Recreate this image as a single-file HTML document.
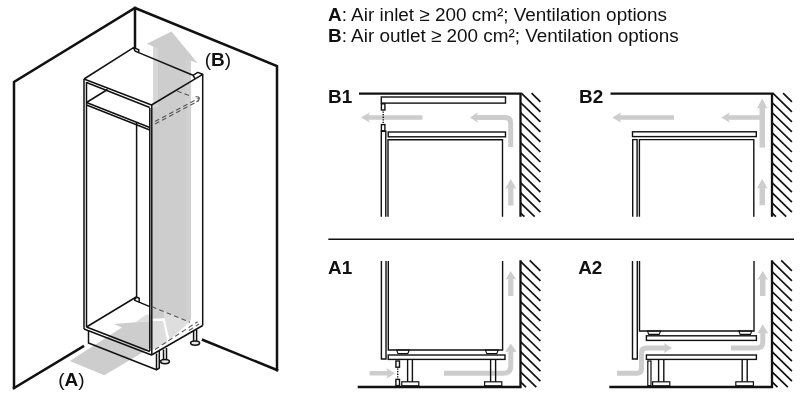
<!DOCTYPE html>
<html><head><meta charset="utf-8">
<style>
html,body{margin:0;padding:0;background:#fff;}
body{width:800px;height:400px;overflow:hidden;position:relative;font-family:"Liberation Sans",sans-serif;}
svg{position:absolute;left:0;top:0;will-change:transform;}
text{font-family:"Liberation Sans",sans-serif;fill:#111;}
.b{font-weight:bold;}
</style></head><body>
<svg width="800" height="400" viewBox="0 0 800 400">

<!-- ============ 3D drawing ============ -->
<g id="iso">
<!-- B arrow -->
<polygon points="146.8,43.7 171.5,31.6 197.8,63.3 191,60.8 191,318 189.5,322 164,311.6 164,318.6 152.3,319 152.3,108 153.3,108 153.3,46.5" fill="#cdcdcd"/>
<polygon points="153.4,46.6 158,48.4 158,108 153.4,106" fill="#d7d7d7"/>
<polygon points="185.4,58.6 191,60.8 191,318 189.5,322 185.4,320.4" fill="#d1d1d1"/>
<!-- light region below hidden floor edge -->
<polygon points="164,311.6 189.5,322 170,339.5 168.6,336.6 164,319.5" fill="#dedede"/>
<!-- A arrow -->
<polygon points="69.8,361 121.8,327.6 114,324 151,321 151,347.5 104.3,375.3" fill="#cdcdcd"/>
<polygon points="135,322.5 145.5,315 151,314.3 151,321" fill="#dedede"/>
<polygon points="152.3,320.5 163.5,320.5 168.2,343 160,345.5 155,348.5 152.3,350" fill="#dedede"/>
<polyline points="152.5,319.8 163.8,319.6 168.8,343" fill="none" stroke="#fff" stroke-width="2.2"/>

<g fill="none" stroke="#111" stroke-width="2.5" stroke-linecap="square">
<polyline points="14,388 14,82 135,8 277,66 277,370"/>
<line x1="135" y1="8" x2="135" y2="47"/>
<line x1="14" y1="388" x2="83" y2="346.5"/>
<line x1="203" y1="340" x2="277" y2="370"/>
</g>

<g fill="none" stroke="#111" stroke-width="1.5" stroke-linejoin="round">
<!-- top -->
<polyline points="84,79 133.5,47.7 138.7,49.6 138.7,52.6 193,75.3 197.8,72.4 202.7,74.3 151.5,105 84,79"/>
<polyline points="133.5,47.7 135,51 138.7,52.6"/>
<line x1="193" y1="75.3" x2="195" y2="78.5"/>
<!-- verticals -->
<line x1="84" y1="79" x2="84" y2="329"/>
<line x1="86.5" y1="82" x2="86.5" y2="327"/>
<line x1="151.8" y1="105" x2="151.8" y2="355"/>
<line x1="149.8" y1="108" x2="149.8" y2="351"/>
<line x1="202.7" y1="74.3" x2="202.7" y2="325.5"/>
<line x1="136.6" y1="122" x2="136.6" y2="297"/>
<!-- front top rail underside -->
<line x1="86.5" y1="82.5" x2="149.8" y2="107.5"/>
<!-- shelf -->
<polyline points="86.5,102.5 149.8,127.5"/>
<polyline points="86.5,105 149.8,130"/>
<line x1="86.5" y1="102.5" x2="107.5" y2="89.5"/>
<!-- bottom -->
<polyline points="84,329 151.5,355 202.7,325.5"/>
<polyline points="86.5,327 149.8,351.5"/>
<polyline points="86.5,327 136.2,297"/>
<polyline points="134.2,300.1 149.8,306.6"/>
<polyline points="136.4,297 139.2,298.2 139.2,302.2"/>
<line x1="134.2" y1="300.1" x2="136.4" y2="297.5"/>
<!-- plinth -->
<polyline points="88.5,331 88.5,343 156.5,369.8 156.5,353.5"/>
<polyline points="156.5,369.8 159.3,368 159.3,351"/>
<!-- legs -->
<line x1="163.5" y1="349.5" x2="163.5" y2="360"/>
<line x1="166.5" y1="348" x2="166.5" y2="360"/>
<ellipse cx="165" cy="361.6" rx="4.4" ry="2.1" fill="#e8e8e8"/>
<line x1="193.6" y1="331" x2="193.6" y2="341.5"/>
<line x1="196.6" y1="329.5" x2="196.6" y2="341.5"/>
<ellipse cx="195.1" cy="343.1" rx="4.5" ry="2.1" fill="#e8e8e8"/>
</g>
<g fill="none" stroke="#555" stroke-width="1.1" stroke-dasharray="4.8 3.2">
<line x1="151.8" y1="306.6" x2="190" y2="322.3"/>
<line x1="155" y1="349.5" x2="197.5" y2="321.8"/>
<line x1="189" y1="330.5" x2="199" y2="324"/>
<line x1="155" y1="121.5" x2="199" y2="98"/>
<line x1="155" y1="124" x2="199" y2="100.5"/>
<line x1="177" y1="91" x2="191" y2="96.3"/>
<path d="M195.5,96.8 Q199.5,96.5 199.3,98.6 Q199.2,100.5 196.5,101.8" stroke-dasharray="none"/>
</g>
<text x="204.7" y="65.6" font-size="19">(<tspan class="b">B</tspan>)</text>
<text x="58.2" y="386.4" font-size="19">(<tspan class="b">A</tspan>)</text>
</g>

<!-- ============ header text ============ -->
<text x="328" y="20.7" font-size="18.9"><tspan class="b">A</tspan>: Air inlet ≥ 200 cm²; Ventilation options</text>
<text x="328" y="41.7" font-size="18.9"><tspan class="b">B</tspan>: Air outlet ≥ 200 cm²; Ventilation options</text>

<!-- divider -->
<line x1="328.3" y1="239.25" x2="794" y2="239.25" stroke="#111" stroke-width="1.5"/>

<!-- labels -->
<text class="b" x="328" y="102.6" font-size="18.9">B1</text>
<text class="b" x="579" y="102.6" font-size="18.9">B2</text>
<text class="b" x="328" y="274" font-size="18.9">A1</text>
<text class="b" x="578.2" y="273.8" font-size="18.9">A2</text>

<!-- ============ B1 ============ -->
<g id="B1">
<g fill="#cdcdcd" stroke="none">
<polygon points="361,117.5 370,112.3 368.5,115.2 422.5,115.2 422.5,119.8 368.5,119.8 370,122.7"/>
<polygon points="470,117.5 478,112.3 476.8,115.2 477,119.8 478,122.7"/>
<path d="M476,117.5 H505 Q510.7,117.5 510.7,123.5 V147" fill="none" stroke="#cdcdcd" stroke-width="5"/>
<polygon points="510.7,179 516.5,189 513.4,188 513.4,205.5 508.2,205.5 508.2,188 505.2,189"/>
</g>
<g fill="none" stroke="#111">
<polyline points="359,93.7 520.5,93.7 520.5,216.8" stroke-width="2.3"/>
<rect x="381.3" y="97" width="124.2" height="6.1" stroke-width="1.4"/>
<rect x="381.4" y="103.8" width="3.5" height="6.2" stroke-width="1.4"/>
<rect x="381.4" y="124.6" width="3.5" height="6.2" stroke-width="1.4"/>
<line x1="383.2" y1="111.4" x2="383.2" y2="124" stroke-width="1.4" stroke-dasharray="1.3 1.3"/>
<polyline points="381.3,216.7 381.3,131.3 385.8,131.3 385.8,216.7" stroke-width="1.4"/>
<rect x="388.2" y="132" width="117.3" height="4.8" stroke-width="1.4"/>
<polyline points="388,216.7 388,139.8 502.5,139.8 502.5,216.7" stroke-width="1.4"/>
</g>
</g>

<!-- ============ B2 ============ -->
<g id="B2">
<g fill="#cdcdcd" stroke="none">
<polygon points="612.3,117.5 621.3,112.3 620,115.2 674,115.2 674,119.8 620,119.8 621.3,122.7"/>
<polygon points="721.5,117.5 729.8,112.3 728.5,115.2 762,115.2 762,119.8 728.5,119.8 729.8,122.7"/>
<polygon points="762.2,98.6 767.6,108.8 765,107.8 765,147.6 759.5,147.6 759.5,107.8 756.8,108.8"/>
<polygon points="762.2,178.8 767.6,188.8 765,187.8 765,205.3 759.5,205.3 759.5,187.8 756.8,188.8"/>
</g>
<g fill="none" stroke="#111">
<polyline points="610.5,93.7 772,93.7 772,216.8" stroke-width="2.3"/>
<rect x="632.5" y="131.8" width="123.8" height="4.8" stroke-width="1.4"/>
<polyline points="632.7,216.7 632.7,139.6 637.1,139.6 637.1,216.7" stroke-width="1.4"/>
<polyline points="639.4,216.7 639.4,139.6 753.8,139.6 753.8,216.7" stroke-width="1.4"/>
</g>
</g>

<!-- ============ A1 ============ -->
<g id="A1">
<g fill="#cdcdcd" stroke="none">
<polygon points="369.6,371 387.5,371 386.5,368 395,373.3 386.5,378.8 387.5,375.6 369.6,375.6"/>
<path d="M444,373.3 H503.5 Q510.8,373.3 510.8,366 V350" fill="none" stroke="#cdcdcd" stroke-width="5"/>
<polygon points="510.8,343.5 516.5,351.8 505.2,351.8"/>
<polygon points="510.7,271 516.3,279.8 513.4,278.8 513.4,296 508.2,296 508.2,278.8 505.4,279.8"/>
</g>
<g fill="none" stroke="#111">
<polyline points="357.7,387 520.5,387 520.5,260.2" stroke-width="2.3"/>
<polyline points="381.4,261 381.4,359 386,359 386,261" stroke-width="1.4"/>
<polyline points="388.3,261 388.3,350 502.6,350 502.6,261" stroke-width="1.4"/>
<polygon points="396.6,350 409.2,350 407.8,353.6 398,353.6" stroke-width="1.1"/>
<polygon points="485.4,350 498.2,350 496.8,353.6 486.8,353.6" stroke-width="1.1"/>
<rect x="388.2" y="355" width="116.8" height="4.4" stroke-width="1.4"/>
<polyline points="407.6,359.4 407.6,381.8" stroke-width="1.4"/>
<polyline points="412.4,359.4 412.4,381.8" stroke-width="1.4"/>
<rect x="401.8" y="381.8" width="17" height="4" stroke-width="1.2"/>
<polyline points="490.6,359.4 490.6,381.8" stroke-width="1.4"/>
<polyline points="495.6,359.4 495.6,381.8" stroke-width="1.4"/>
<rect x="484.6" y="381.8" width="17.2" height="4" stroke-width="1.2"/>
<rect x="395.9" y="361" width="3.6" height="6.2" stroke-width="1.4"/>
<rect x="395.9" y="379.4" width="3.6" height="6.2" stroke-width="1.4"/>
<line x1="397.7" y1="368.4" x2="397.7" y2="379" stroke-width="1.4" stroke-dasharray="1.3 1.3"/>
</g>
</g>

<!-- ============ A2 ============ -->
<g id="A2">
<g fill="#cdcdcd" stroke="none">
<path d="M617,373.3 H636.7 Q641.5,373.3 641.5,368.5 V352.8 Q641.5,348 646.3,348 H665" fill="none" stroke="#cdcdcd" stroke-width="5"/>
<polygon points="672,348 663.5,342.8 664.8,345.6 664.8,350.4 663.5,353.2"/>
<path d="M731,348 H756.8 Q762.8,348 762.8,342 V332" fill="none" stroke="#cdcdcd" stroke-width="5"/>
<polygon points="762.7,324.3 768.2,333.2 757.4,333.2"/>
<polygon points="762.7,271 768.2,280 765.4,279 765.4,296 760,296 760,279 757.4,280"/>
</g>
<g fill="none" stroke="#111">
<polyline points="609.3,387 772,387 772,260.2" stroke-width="2.3"/>
<polyline points="632.5,261 632.5,359 637.3,359 637.3,261" stroke-width="1.4"/>
<polyline points="639.5,261 639.5,331 754,331 754,261" stroke-width="1.4"/>
<polygon points="647.4,331 660.6,331 659.2,334.4 648.8,334.4" stroke-width="1.1"/>
<polygon points="738.8,331 751.8,331 750.4,334.4 740.2,334.4" stroke-width="1.1"/>
<rect x="646.4" y="335.8" width="110" height="4.6" stroke-width="1.4"/>
<rect x="646.4" y="355" width="110" height="4.4" stroke-width="1.4"/>
<rect x="647.8" y="361" width="3.2" height="24.6" stroke-width="1.2"/>
<polyline points="658.6,359.4 658.6,381.8" stroke-width="1.4"/>
<polyline points="663.8,359.4 663.8,381.8" stroke-width="1.4"/>
<rect x="652.6" y="381.8" width="17.2" height="4" stroke-width="1.2"/>
<polyline points="742.2,359.4 742.2,381.8" stroke-width="1.4"/>
<polyline points="747.2,359.4 747.2,381.8" stroke-width="1.4"/>
<rect x="735.8" y="381.8" width="17.6" height="4" stroke-width="1.2"/>
</g>
</g>

<!-- ============ hatches ============ -->
<g id="hatch" stroke="#111" stroke-width="1.7" fill="none" stroke-linecap="butt">
<line x1="531.6" y1="93.2" x2="540.4" y2="101.8"/>
<line x1="521.3" y1="93.2" x2="540.4" y2="111.8"/>
<line x1="520.5" y1="102.5" x2="540.4" y2="121.9"/>
<line x1="520.5" y1="112.5" x2="540.4" y2="131.9"/>
<line x1="520.5" y1="122.5" x2="540.4" y2="141.9"/>
<line x1="520.5" y1="132.6" x2="540.4" y2="152.0"/>
<line x1="520.5" y1="142.6" x2="540.4" y2="162.0"/>
<line x1="520.5" y1="152.6" x2="540.4" y2="172.0"/>
<line x1="520.5" y1="162.6" x2="540.4" y2="182.0"/>
<line x1="520.5" y1="172.7" x2="540.4" y2="192.1"/>
<line x1="520.5" y1="182.7" x2="540.4" y2="202.1"/>
<line x1="520.5" y1="192.7" x2="540.4" y2="212.1"/>
<line x1="520.5" y1="202.8" x2="534.7" y2="216.6"/>
<line x1="520.5" y1="212.8" x2="524.4" y2="216.6"/>
<line x1="783.1" y1="93.2" x2="791.9" y2="101.8"/>
<line x1="772.8" y1="93.2" x2="791.9" y2="111.8"/>
<line x1="772.0" y1="102.5" x2="791.9" y2="121.9"/>
<line x1="772.0" y1="112.5" x2="791.9" y2="131.9"/>
<line x1="772.0" y1="122.5" x2="791.9" y2="141.9"/>
<line x1="772.0" y1="132.6" x2="791.9" y2="152.0"/>
<line x1="772.0" y1="142.6" x2="791.9" y2="162.0"/>
<line x1="772.0" y1="152.6" x2="791.9" y2="172.0"/>
<line x1="772.0" y1="162.6" x2="791.9" y2="182.0"/>
<line x1="772.0" y1="172.7" x2="791.9" y2="192.1"/>
<line x1="772.0" y1="182.7" x2="791.9" y2="202.1"/>
<line x1="772.0" y1="192.7" x2="791.9" y2="212.1"/>
<line x1="772.0" y1="202.8" x2="786.2" y2="216.6"/>
<line x1="772.0" y1="212.8" x2="775.9" y2="216.6"/>
<line x1="529.7" y1="260.4" x2="540.4" y2="270.8"/>
<line x1="520.5" y1="261.4" x2="540.4" y2="280.8"/>
<line x1="520.5" y1="271.5" x2="540.4" y2="290.9"/>
<line x1="520.5" y1="281.5" x2="540.4" y2="300.9"/>
<line x1="520.5" y1="291.5" x2="540.4" y2="310.9"/>
<line x1="520.5" y1="301.6" x2="540.4" y2="320.9"/>
<line x1="520.5" y1="311.6" x2="540.4" y2="331.0"/>
<line x1="520.5" y1="321.6" x2="540.4" y2="341.0"/>
<line x1="520.5" y1="331.6" x2="540.4" y2="351.0"/>
<line x1="520.5" y1="341.7" x2="540.4" y2="361.1"/>
<line x1="520.5" y1="351.7" x2="540.4" y2="371.1"/>
<line x1="520.5" y1="361.7" x2="540.4" y2="381.1"/>
<line x1="520.5" y1="371.8" x2="536.3" y2="387.2"/>
<line x1="520.5" y1="381.8" x2="526.0" y2="387.2"/>
<line x1="781.2" y1="260.4" x2="791.9" y2="270.8"/>
<line x1="772.0" y1="261.4" x2="791.9" y2="280.8"/>
<line x1="772.0" y1="271.5" x2="791.9" y2="290.9"/>
<line x1="772.0" y1="281.5" x2="791.9" y2="300.9"/>
<line x1="772.0" y1="291.5" x2="791.9" y2="310.9"/>
<line x1="772.0" y1="301.6" x2="791.9" y2="320.9"/>
<line x1="772.0" y1="311.6" x2="791.9" y2="331.0"/>
<line x1="772.0" y1="321.6" x2="791.9" y2="341.0"/>
<line x1="772.0" y1="331.6" x2="791.9" y2="351.0"/>
<line x1="772.0" y1="341.7" x2="791.9" y2="361.1"/>
<line x1="772.0" y1="351.7" x2="791.9" y2="371.1"/>
<line x1="772.0" y1="361.7" x2="791.9" y2="381.1"/>
<line x1="772.0" y1="371.8" x2="787.8" y2="387.2"/>
<line x1="772.0" y1="381.8" x2="777.5" y2="387.2"/>
</g>
</svg>
</body></html>
